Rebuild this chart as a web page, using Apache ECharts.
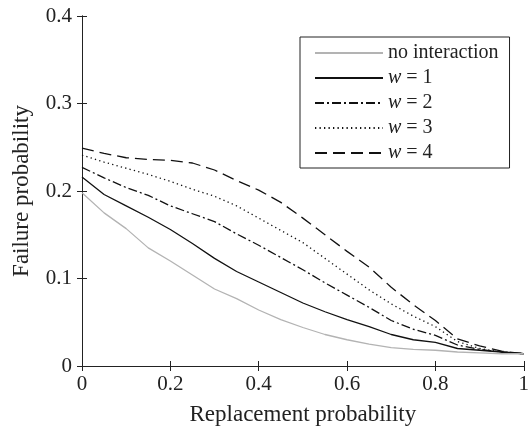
<!DOCTYPE html>
<html>
<head>
<meta charset="utf-8">
<script src="https://cdn.jsdelivr.net/npm/echarts@6/dist/echarts.min.js"></script>
<style>html,body{margin:0;padding:0;background:#fff;}#c{width:532px;height:431px;}</style>
</head>
<body>
<div id="c"></div>
<script>
var xValues = [0, 0.05, 0.1, 0.15, 0.2, 0.25, 0.3, 0.35, 0.4, 0.45, 0.5, 0.55, 0.6, 0.65, 0.7, 0.75, 0.8, 0.85, 0.9, 0.95, 1];
var noInteraction = [0.198, 0.175, 0.157, 0.135, 0.120, 0.104, 0.088, 0.077, 0.064, 0.053, 0.044, 0.036, 0.030, 0.025, 0.021, 0.019, 0.018, 0.016, 0.015, 0.014, 0.014];
var w1 = [0.216, 0.196, 0.183, 0.170, 0.156, 0.140, 0.123, 0.108, 0.096, 0.084, 0.072, 0.062, 0.053, 0.045, 0.036, 0.030, 0.027, 0.020, 0.018, 0.016, 0.014];
var w2 = [0.227, 0.215, 0.204, 0.195, 0.183, 0.174, 0.165, 0.151, 0.138, 0.124, 0.110, 0.095, 0.081, 0.067, 0.052, 0.042, 0.035, 0.024, 0.019, 0.016, 0.014];
var w3 = [0.241, 0.233, 0.226, 0.219, 0.211, 0.202, 0.194, 0.183, 0.169, 0.155, 0.141, 0.123, 0.105, 0.087, 0.071, 0.057, 0.045, 0.028, 0.020, 0.016, 0.014];
var w4 = [0.249, 0.243, 0.238, 0.236, 0.235, 0.232, 0.224, 0.212, 0.201, 0.187, 0.169, 0.150, 0.131, 0.113, 0.090, 0.070, 0.052, 0.031, 0.023, 0.017, 0.014];
var seriesNames = ['no interaction', 'w = 1', 'w = 2', 'w = 3', 'w = 4'];
var xTicks = [0, 0.2, 0.4, 0.6, 0.8, 1];
var yTicks = [0, 0.1, 0.2, 0.3, 0.4];

var FONT = 'Liberation Serif';
function pairs(ys) { return xValues.map(function (x, i) { return [x, ys[i]]; }); }

var styles = [
  { color: '#b3b3b3', type: 'solid' },
  { color: '#111', type: 'solid' },
  { color: '#111', type: [9, 3, 2, 3] },
  { color: '#111', type: [1.3, 3.2] },
  { color: '#111', type: [12, 6] }
];
var allData = [noInteraction, w1, w2, w3, w4];

var series = allData.map(function (d, i) {
  return {
    name: seriesNames[i],
    type: 'line',
    data: pairs(d),
    symbol: 'none',
    showSymbol: false,
    animation: false,
    lineStyle: { color: styles[i].color, width: 1.3, type: styles[i].type },
    itemStyle: { color: styles[i].color },
    z: 5 - i
  };
});

var axisCommon = {
  axisLine: { show: true, lineStyle: { color: '#222', width: 1 } },
  axisTick: { show: true, inside: true, length: 5, lineStyle: { color: '#222' } },
  splitLine: { show: false }
};

var chart = echarts.init(document.getElementById('c'), null, { renderer: 'canvas' });
chart.setOption({
  backgroundColor: '#fff',
  animation: false,
  grid: { left: 82, right: 1, top: 16, bottom: 64 },
  legend: {
    data: seriesNames,
    orient: 'vertical',
    left: 300,
    top: 37,
    padding: [6, 11, 5, 14],
    itemGap: 5,
    itemWidth: 68,
    itemHeight: 12,
    borderColor: '#222',
    borderWidth: 1,
    backgroundColor: '#fff',
    selectedMode: false,
    itemStyle: { opacity: 0 },
    lineStyle: { opacity: 1 },
    formatter: function (name) {
      if (name.charAt(0) === 'w') return '{i|w}' + name.slice(1);
      return name;
    },
    textStyle: {
      fontFamily: FONT, fontSize: 20, color: '#222',
      rich: { i: { fontFamily: FONT, fontSize: 20, fontStyle: 'italic', color: '#222' } }
    }
  },
  xAxis: [
    Object.assign({
      type: 'value', min: xTicks[0], max: xTicks[xTicks.length - 1], interval: xTicks[1] - xTicks[0],
      name: 'Replacement probability', nameLocation: 'middle', nameGap: 37,
      nameTextStyle: { fontFamily: FONT, fontSize: 23, color: '#222' },
      axisLabel: { fontFamily: FONT, fontSize: 21, color: '#222', margin: 8 }
    }, axisCommon),
    Object.assign({
      type: 'value', position: 'top', min: xTicks[0], max: xTicks[xTicks.length - 1], interval: xTicks[1] - xTicks[0],
      axisLabel: { show: false }
    }, axisCommon)
  ],
  yAxis: [
    Object.assign({
      type: 'value', min: yTicks[0], max: yTicks[yTicks.length - 1], interval: yTicks[1] - yTicks[0],
      name: 'Failure probability', nameLocation: 'middle', nameGap: 49,
      nameTextStyle: { fontFamily: FONT, fontSize: 23, color: '#222' },
      axisLabel: { fontFamily: FONT, fontSize: 21, color: '#222', margin: 10 }
    }, axisCommon),
    Object.assign({
      type: 'value', position: 'right', min: yTicks[0], max: yTicks[yTicks.length - 1], interval: yTicks[1] - yTicks[0],
      axisLabel: { show: false }
    }, axisCommon)
  ],
  series: series
});
</script>
</body>
</html>
